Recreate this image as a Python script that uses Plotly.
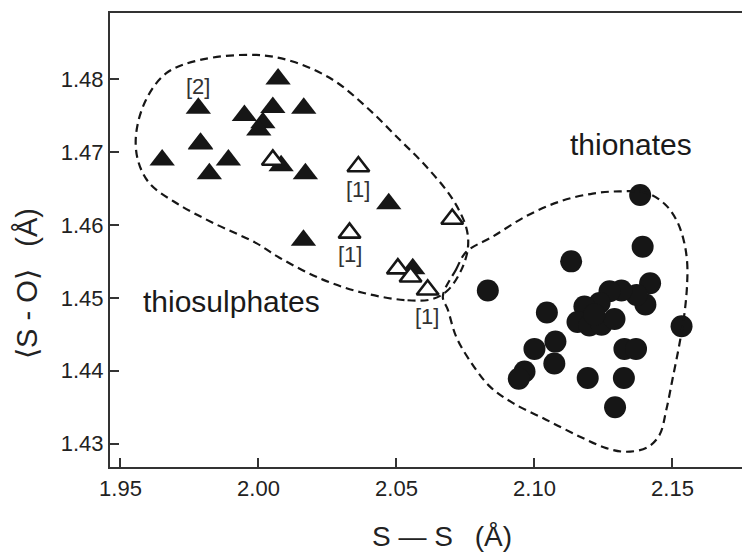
import plotly.graph_objects as go

# ---- data ----
# thiosulphates, filled triangles
thio_x = [2.0071, 1.9782, 2.0052, 2.0164, 1.9949, 2.0016, 2.0001, 1.9790, 1.9790,
          1.9651, 1.9891, 1.9822, 2.0082, 2.0170, 2.0472, 2.0163, 2.0559]
thio_y = [1.4800, 1.4760, 1.4761, 1.4760, 1.4750, 1.4740, 1.4730, 1.4711, 1.4712,
          1.4689, 1.4689, 1.4670, 1.4681, 1.4670, 1.4629, 1.4579, 1.4540]
# thiosulphates from ref. [1], open triangles
ref1_x = [2.0052, 2.0362, 2.0330, 2.0702, 2.0505, 2.0551, 2.0613]
ref1_y = [1.4689, 1.4680, 1.4589, 1.4608, 1.4540, 1.4529, 1.4511]
# thionates, filled circles
thion_x = [2.1383, 2.1392, 2.1133, 2.0831, 2.1045, 2.1533, 2.1076, 2.1000, 2.1072,
           2.0964, 2.0943, 2.1193, 2.1326, 2.1368, 2.1324, 2.1292,
           2.1419, 2.1402, 2.1370, 2.1315, 2.1272, 2.1236, 2.1181, 2.1156, 2.1199,
           2.1243, 2.1290, 2.1217]
thion_y = [1.4641, 1.4570, 1.4550, 1.4510, 1.4480, 1.4461, 1.4440, 1.4430, 1.4410,
           1.4399, 1.4389, 1.4390, 1.4430, 1.4430, 1.4390, 1.4350,
           1.4520, 1.4491, 1.4504, 1.4510, 1.4509, 1.4493, 1.4488, 1.4467, 1.4462,
           1.4463, 1.4471, 1.4477]

# dashed group outlines
thio_hull_x = [2.0627, 2.0529, 2.0378, 2.0233, 2.0076, 1.9992, 1.9834, 1.9702, 1.9605,
               1.9563, 1.9557, 1.9593, 1.9666, 1.9786, 1.9992, 2.0124, 2.0269, 2.0390,
               2.0511, 2.0608, 2.0704, 2.0753, 2.0759, 2.0736, 2.0685, 2.0627]
thio_hull_y = [1.4498, 1.4497, 1.4507, 1.4525, 1.4555, 1.4575, 1.4603, 1.4630, 1.4657,
               1.4689, 1.4726, 1.4772, 1.4808, 1.4826, 1.4833, 1.4824, 1.4799, 1.4762,
               1.4717, 1.4680, 1.4635, 1.4596, 1.4569, 1.4539, 1.4510, 1.4498]
thion_hull_x = [2.0668, 2.0716, 2.0753, 2.0849, 2.0970, 2.1091, 2.1211, 2.1308, 2.1405,
                2.1471, 2.1514, 2.1540, 2.1553, 2.1553, 2.1543, 2.1525, 2.1501, 2.1478,
                2.1453, 2.1409, 2.1333, 2.1260, 2.1163, 2.1042, 2.0921, 2.0837, 2.0764,
                2.0716, 2.0686, 2.0668]
thion_hull_y = [1.4502, 1.4539, 1.4563, 1.4584, 1.4612, 1.4632, 1.4643, 1.4646, 1.4644,
                1.4629, 1.4607, 1.4580, 1.4550, 1.4518, 1.4477, 1.4436, 1.4390, 1.4347,
                1.4312, 1.4295, 1.4289, 1.4294, 1.4310, 1.4333, 1.4356, 1.4379, 1.4415,
                1.4447, 1.4484, 1.4502]

# text labels
label_text = ["[2]", "[1]", "[1]", "[1]"]
label_x = [1.9780, 2.0362, 2.0330, 2.0610]
label_y = [1.4790, 1.4649, 1.4559, 1.4475]
group_text = ["thiosulphates", "thionates"]
group_x = [1.9904, 2.1348]
group_y = [1.4495, 1.4710]

x_title = "S \u2014 S \u2002(\u00c5)"
y_title = "\u27e8S - O\u27e9 \u2002(\u00c5)"

x_ticks = [1.95, 2.00, 2.05, 2.10, 2.15]
x_ticktext = ["1.95", "2.00", "2.05", "2.10", "2.15"]
y_ticks = [1.43, 1.44, 1.45, 1.46, 1.47, 1.48]
y_ticktext = ["1.43", "1.44", "1.45", "1.46", "1.47", "1.48"]

INK = "#161616"
FONT = "Liberation Sans, Arial, sans-serif"

fig = go.Figure()
fig.add_trace(go.Scatter(x=thion_x, y=thion_y, mode="markers",
                         marker=dict(symbol="circle", size=22, color=INK, line=dict(width=0))))
fig.add_trace(go.Scatter(x=thio_x, y=thio_y, mode="markers",
                         marker=dict(symbol="triangle-up", size=22, color=INK, line=dict(width=0))))
fig.add_trace(go.Scatter(x=ref1_x, y=ref1_y, mode="markers",
                         marker=dict(symbol="triangle-up", size=19, color="white",
                                     line=dict(width=2.6, color=INK))))
for hx, hy in [(thio_hull_x, thio_hull_y), (thion_hull_x, thion_hull_y)]:
    fig.add_trace(go.Scatter(x=hx, y=hy, mode="lines",
                             line=dict(color=INK, width=2.2, dash="8px,5px",
                                       shape="spline", smoothing=1.0)))

for t, x, y in zip(label_text, label_x, label_y):
    fig.add_annotation(x=x, y=y, text=t, showarrow=False,
                       font=dict(family=FONT, size=22, color="#333333"))
for t, x, y in zip(group_text, group_x, group_y):
    fig.add_annotation(x=x, y=y, text=t, showarrow=False,
                       font=dict(family=FONT, size=30, color="#1a1a1a"))

# axis titles (placed as in the reference, slightly off-centre)
fig.add_annotation(xref="paper", yref="paper", x=0.519, y=-0.153, text=x_title,
                   showarrow=False, xanchor="center", yanchor="middle",
                   font=dict(family=FONT, size=28, color="#222222"))
fig.add_annotation(xref="paper", yref="paper", x=-0.130, y=0.405, text=y_title,
                   showarrow=False, xanchor="center", yanchor="middle", textangle=-90,
                   font=dict(family=FONT, size=29, color="#222222"))

# the page body keeps the browser's default 8px margin, so the figure is drawn
# 8px smaller and the margins are reduced by 8px to land on the same pixels
fig.update_layout(
    width=742, height=545,
    margin=dict(l=102, r=0, t=5, b=86),
    paper_bgcolor="white", plot_bgcolor="white",
    showlegend=False,
    font=dict(family=FONT, color="#222222"),
    xaxis=dict(range=[1.9462, 2.1781], tickvals=x_ticks, ticktext=x_ticktext,
               ticks="inside", ticklen=9, tickwidth=1.6, tickcolor="#333333",
               showline=True, linecolor="#333333", linewidth=2.2, mirror=True,
               showgrid=False, zeroline=False,
               tickfont=dict(family=FONT, size=22, color="#222222")),
    yaxis=dict(range=[1.42681, 1.48905], tickvals=y_ticks, ticktext=y_ticktext,
               ticks="inside", ticklen=9, tickwidth=1.6, tickcolor="#333333",
               showline=True, linecolor="#333333", linewidth=2.2, mirror=False,
               showgrid=False, zeroline=False,
               tickfont=dict(family=FONT, size=22, color="#222222")),
)

fig.write_html("out.html")
